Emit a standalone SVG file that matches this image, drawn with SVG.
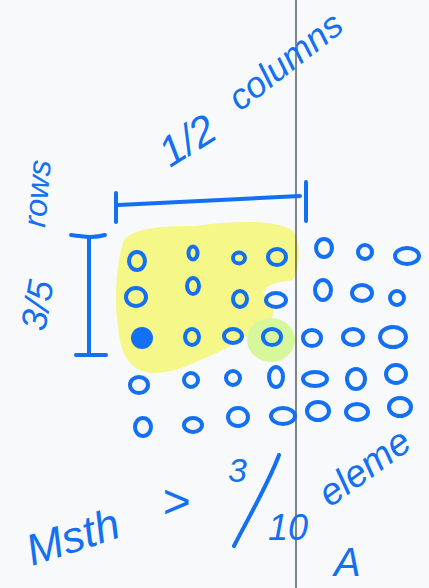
<svg xmlns="http://www.w3.org/2000/svg" width="429" height="588" viewBox="0 0 429 588">
<style>
.ink{fill:none;stroke:#1370f2;stroke-width:4;stroke-linecap:round;stroke-linejoin:round}
.dot{fill:none;stroke:#1370f2;stroke-width:4}
.t{font-family:"Liberation Sans",Arial,sans-serif;fill:#1370f2;font-style:italic}
</style>
<rect width="429" height="588" fill="#f8f9fa"/>
<path d="M118 327 C114 300 116 262 124 240 C135 227 165 226 195 226 C235 220 275 220 292 230 C302 242 300 266 293 280 C280 282 268 283 263 292 C272 302 278 312 270 320 C252 332 232 347 205 358 C182 369 160 376 145 372 C127 367 120 350 118 327 Z" fill="#f6f789"/>
<ellipse cx="271" cy="340" rx="24" ry="22" fill="#d6f79c"/>
<line x1="296" y1="0" x2="296" y2="588" stroke="#2b3a3a" stroke-width="1.2"/>
<g id="bracket-h">
<path class="ink" d="M118 205 C170 202 230 200 300 196"/>
<path class="ink" d="M116 193 L116 222"/>
<path class="ink" d="M306 182 L306 221" stroke-width="5"/>
</g>
<g id="bracket-v">
<path class="ink" d="M71 235 C85 237 95 238 105 235"/>
<path class="ink" d="M89 237 L89 355"/>
<path class="ink" d="M76 355 L106 355"/>
</g>
<g id="grid">
<ellipse class="dot" cx="137" cy="261" rx="8" ry="9"/>
<ellipse class="dot" cx="193" cy="253" rx="4.5" ry="6.5"/>
<ellipse class="dot" cx="239" cy="258" rx="6" ry="5.5"/>
<ellipse class="dot" cx="277" cy="257" rx="9" ry="8"/>
<ellipse class="dot" cx="324" cy="248" rx="8" ry="9"/>
<ellipse class="dot" cx="365" cy="252" rx="7" ry="7"/>
<ellipse class="dot" cx="407" cy="256" rx="12" ry="8"/>
<ellipse class="dot" cx="136" cy="297" rx="10" ry="9"/>
<ellipse class="dot" cx="193" cy="286" rx="6" ry="8"/>
<ellipse class="dot" cx="240" cy="299" rx="7" ry="8"/>
<ellipse class="dot" cx="276" cy="300" rx="10" ry="7"/>
<ellipse class="dot" cx="323" cy="290" rx="8" ry="10"/>
<ellipse class="dot" cx="362" cy="293" rx="10" ry="8"/>
<ellipse class="dot" cx="397" cy="298" rx="7" ry="7"/>
<ellipse cx="142" cy="338" rx="11" ry="11" fill="#1370f2"/>
<ellipse class="dot" cx="192" cy="337" rx="7" ry="8"/>
<ellipse class="dot" cx="233" cy="336" rx="9" ry="7"/>
<ellipse class="dot" cx="272" cy="337" rx="9" ry="8"/>
<ellipse class="dot" cx="312" cy="338" rx="9" ry="8"/>
<ellipse class="dot" cx="353" cy="337" rx="10" ry="8"/>
<ellipse class="dot" cx="393" cy="337" rx="13" ry="10"/>
<ellipse class="dot" cx="139" cy="385" rx="9" ry="8"/>
<ellipse class="dot" cx="191" cy="380" rx="7" ry="7"/>
<ellipse class="dot" cx="233" cy="378" rx="7" ry="7"/>
<ellipse class="dot" cx="276" cy="377" rx="7" ry="10"/>
<ellipse class="dot" cx="315" cy="379" rx="12" ry="7"/>
<ellipse class="dot" cx="356" cy="379" rx="9" ry="10"/>
<ellipse class="dot" cx="396" cy="374" rx="10" ry="9"/>
<ellipse class="dot" cx="143" cy="427" rx="8" ry="9"/>
<ellipse class="dot" cx="193" cy="425" rx="9" ry="7"/>
<ellipse class="dot" cx="238" cy="417" rx="10" ry="9"/>
<ellipse class="dot" cx="283" cy="416" rx="12" ry="8"/>
<ellipse class="dot" cx="318" cy="411" rx="11" ry="9"/>
<ellipse class="dot" cx="357" cy="412" rx="11" ry="8"/>
<ellipse class="dot" cx="400" cy="407" rx="11" ry="9"/>
</g>
<g id="labels">
<text class="t" font-size="32" transform="translate(45,228) rotate(-85)">rows</text>
<text class="t" font-size="36" transform="translate(45,332) rotate(-80)">3/5</text>
<text class="t" font-size="42" transform="translate(170,168) rotate(-32)">1/2</text>
<text class="t" font-size="36" transform="translate(240,112) rotate(-38)">columns</text>
<text class="t" font-size="44" transform="translate(32,566) rotate(-18)">Msth</text>
<text class="t" font-size="48" font-style="normal" x="162" y="518">&gt;</text>
<text class="t" font-size="34" x="228" y="482">3</text>
<path class="ink" d="M279 455 C270 480 250 515 234 546"/>
<text class="t" font-size="36" x="268" y="540">10</text>
<text class="t" font-size="38" transform="translate(330,508) rotate(-36)">eleme</text>
<text class="t" font-size="40" x="334" y="576">A</text>
</g>
</svg>
